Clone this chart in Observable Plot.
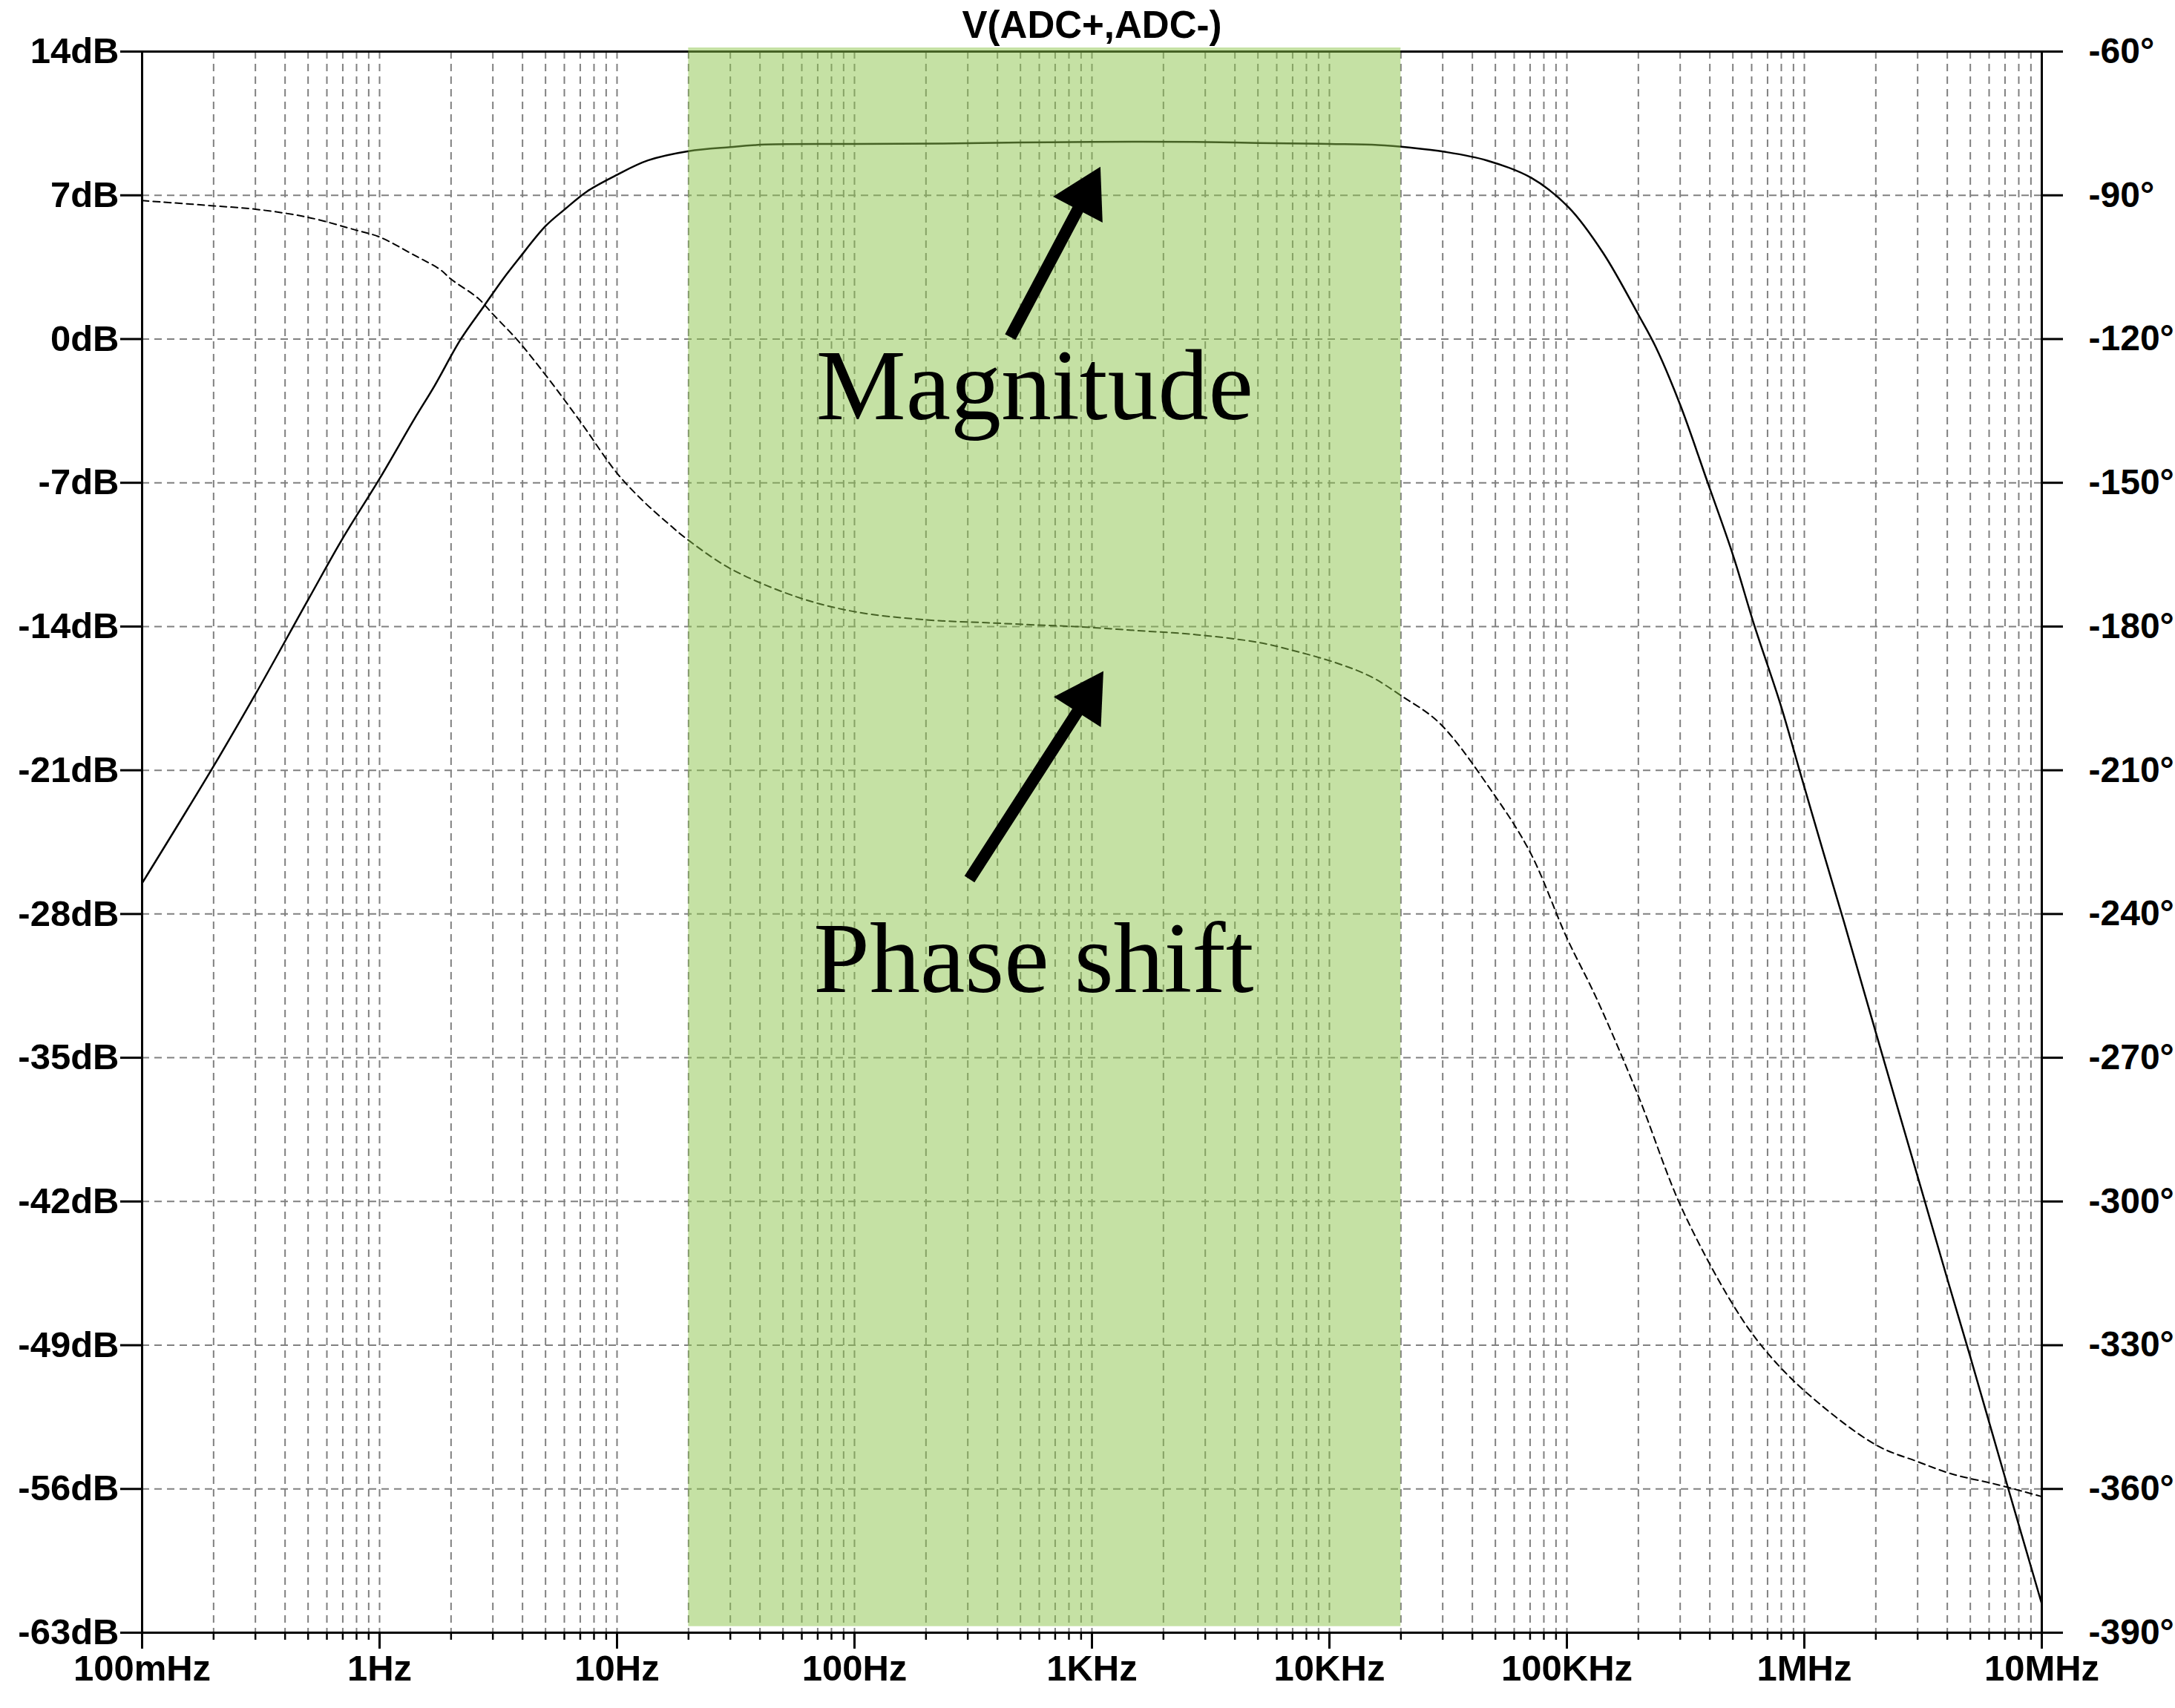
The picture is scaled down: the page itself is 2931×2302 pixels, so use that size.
<!DOCTYPE html>
<html>
<head>
<meta charset="utf-8">
<script src="https://cdn.jsdelivr.net/npm/d3@7"></script>
<script src="https://cdn.jsdelivr.net/npm/@observablehq/plot@0.6"></script>
<style>
html, body { margin: 0; padding: 0; background: #fff; }
#chart svg { display: block; }
</style>
</head>
<body>
<div id="chart"></div>
<script>
// ---------- data ----------
const title = "V(ADC+,ADC-)";

const magFreq = [0.1, 0.2, 0.3, 0.5, 0.7, 1, 1.4, 1.7, 2.2, 2.75, 3.3, 3.85, 5, 6, 7.5, 10, 13.5, 20, 30, 42, 100, 230, 500, 1000, 2700, 5000, 10000, 16000, 22000, 30500, 46000, 70800, 102000, 142000, 202000, 237000, 300000, 392000, 500000, 614000, 794000, 965000, 1210000, 1470000, 2050000, 3020000, 4030000, 4980000, 7230000, 10000000];
const magDb = [-26.5, -20.8, -17.3, -12.7, -9.7, -6.8, -3.9, -2.3, 0.0, 1.6, 2.9, 3.9, 5.5, 6.3, 7.2, 8.0, 8.7, 9.15, 9.35, 9.47, 9.5, 9.52, 9.57, 9.6, 9.6, 9.55, 9.5, 9.45, 9.32, 9.12, 8.7, 7.85, 6.4, 4.2, 1.1, -0.4, -3.2, -7.0, -10.5, -13.9, -17.8, -21.2, -25.1, -28.4, -34.2, -40.9, -45.9, -49.5, -56.0, -61.6];

const phaseFreq = [0.1, 0.2, 0.3, 0.5, 0.8, 1, 1.4, 1.8, 2, 2.6, 3, 3.85, 5, 7, 10, 13, 16.5, 20, 30, 57, 100, 200, 360, 600, 850, 1500, 2750, 5000, 6900, 10700, 15000, 20000, 29000, 48000, 70000, 100000, 133000, 200000, 302000, 500000, 670000, 1000000, 2000000, 3000000, 4200000, 6500000, 10000000];
const phaseDeg = [-91.1, -92.2, -92.9, -94.6, -97.3, -98.7, -102.5, -105.5, -107.5, -111.5, -114.8, -120.5, -127.5, -137.2, -148, -154, -158.6, -162, -167.9, -173.8, -176.9, -178.6, -179.2, -179.7, -180, -180.8, -181.7, -183.3, -184.9, -187.6, -190.5, -194.4, -200.1, -214.2, -227.1, -245, -257.5, -278, -301, -321.5, -330.5, -339.5, -350.8, -354.3, -356.9, -359.1, -361.6];

const dbTicks = [14, 7, 0, -7, -14, -21, -28, -35, -42, -49, -56, -63];
const dbTickLabels = ["14dB", "7dB", "0dB", "-7dB", "-14dB", "-21dB", "-28dB", "-35dB", "-42dB", "-49dB", "-56dB", "-63dB"];
const phaseTickLabels = ["-60°", "-90°", "-120°", "-150°", "-180°", "-210°", "-240°", "-270°", "-300°", "-330°", "-360°", "-390°"];

const xMajor = [0.1, 1, 10, 100, 1e3, 1e4, 1e5, 1e6, 1e7];
const xMajorLabels = ["100mHz", "1Hz", "10Hz", "100Hz", "1KHz", "10KHz", "100KHz", "1MHz", "10MHz"];
const xMinorMultipliers = [2, 3, 4, 5, 6, 7, 8, 9];

const bandFreq = [20, 20000];          // highlighted pass band
const bandDb = [-62.7, 14.18];

const annotationLabels = ["Magnitude", "Phase shift"];
const annotationFreq = [574, 568];
const annotationDb = [-3.9, -31.8];

// arrows: tail and head-centre positions, in (Hz, dB)
const arrowTailFreq = [453, 305];
const arrowTailDb = [0.1, -26.3];
const arrowHeadFreq = [938, 944];
const arrowHeadDb = [7.0, -17.5];
const arrowAngle = [27.8, 32.6];

// ---------- derived tables ----------
const phaseToDb = ph => 14 + (ph + 60) * 77 / 330;   // right axis -60°..-390° ↔ 14dB..-63dB
const magnitude = magFreq.map((f, i) => ({f, v: magDb[i]}));
const phase = phaseFreq.map((f, i) => ({f, v: phaseToDb(phaseDeg[i])}));
const xMinor = xMajor.slice(0, -1).flatMap(d => xMinorMultipliers.map(m => d * m));
const xGrid = xMajor.concat(xMinor);
const leftLabel = new Map(dbTicks.map((d, i) => [d, dbTickLabels[i]]));
const rightLabel = new Map(dbTicks.map((d, i) => [d, phaseTickLabels[i]]));
const xLabel = new Map(xMajor.map((d, i) => [d, xMajorLabels[i]]));
const annotations = annotationLabels.map((t, i) => ({t, f: annotationFreq[i], v: annotationDb[i]}));
const arrows = arrowTailFreq.map((f, i) => ({f1: f, v1: arrowTailDb[i], f2: arrowHeadFreq[i], v2: arrowHeadDb[i], a: arrowAngle[i]}));

const sans = "'Liberation Sans', Arial, Helvetica, sans-serif";
const serif = "'Liberation Serif', 'Times New Roman', serif";
const gridStyle = {stroke: "#808080", strokeOpacity: 1, strokeWidth: 2, strokeDasharray: "10,7"};

const chart = Plot.plot({
  width: 2931,
  height: 2302,
  marginLeft: 191,
  marginRight: 180,
  marginTop: 69,
  marginBottom: 102,
  style: {fontFamily: sans, background: "#fff", color: "#000"},
  x: {type: "log", domain: [0.1, 1e7]},
  y: {domain: [-63, 14]},
  marks: [
    Plot.gridX({ticks: xGrid, ...gridStyle}),
    Plot.gridY({ticks: dbTicks, ...gridStyle}),
    Plot.line(phase, {x: "f", y: "v", stroke: "#000", strokeWidth: 2, strokeDasharray: "9,6", curve: "catmull-rom"}),
    Plot.line(magnitude, {x: "f", y: "v", stroke: "#000", strokeWidth: 2.5, curve: "catmull-rom"}),
    Plot.frame({stroke: "#000", strokeWidth: 3}),
    Plot.axisY({anchor: "left", ticks: dbTicks, tickSize: 29, tickPadding: 2, strokeWidth: 3,
      tickFormat: d => leftLabel.get(d), label: null, fontSize: 49, fontWeight: "bold"}),
    Plot.axisY({anchor: "right", ticks: dbTicks, tickSize: 28, tickPadding: 35, strokeWidth: 3,
      tickFormat: d => rightLabel.get(d), label: null, fontSize: 48, fontWeight: "bold"}),
    Plot.axisX({anchor: "bottom", ticks: xMinor, tickSize: 10, strokeWidth: 2.5,
      tickFormat: () => "", label: null}),
    Plot.axisX({anchor: "bottom", ticks: xMajor, tickSize: 22, tickPadding: 8, strokeWidth: 3,
      tickFormat: d => xLabel.get(d), label: null, fontSize: 49, fontWeight: "bold"}),
    Plot.rect([0], {x1: () => bandFreq[0], x2: () => bandFreq[1], y1: () => bandDb[0], y2: () => bandDb[1],
      fill: "#8bc34a", fillOpacity: 0.5}),
    Plot.text([title], {text: d => d, frameAnchor: "top", lineAnchor: "middle", dy: -35, fontSize: 51, fontWeight: "bold", fill: "#000"}),
    Plot.text(annotations, {x: "f", y: "v", text: "t", lineAnchor: "bottom", textAnchor: "middle",
      fontFamily: serif, fontSize: 136, fill: "#000"}),
    Plot.link(arrows, {x1: "f1", y1: "v1", x2: "f2", y2: "v2", stroke: "#000", strokeWidth: 16, strokeLinecap: "butt"}),
    Plot.dot(arrows, {x: "f2", y: "v2", symbol: "triangle", r: 28, rotate: "a", fill: "#000", stroke: "none"})
  ]
});
document.getElementById("chart").appendChild(chart);
</script>
</body>
</html>
